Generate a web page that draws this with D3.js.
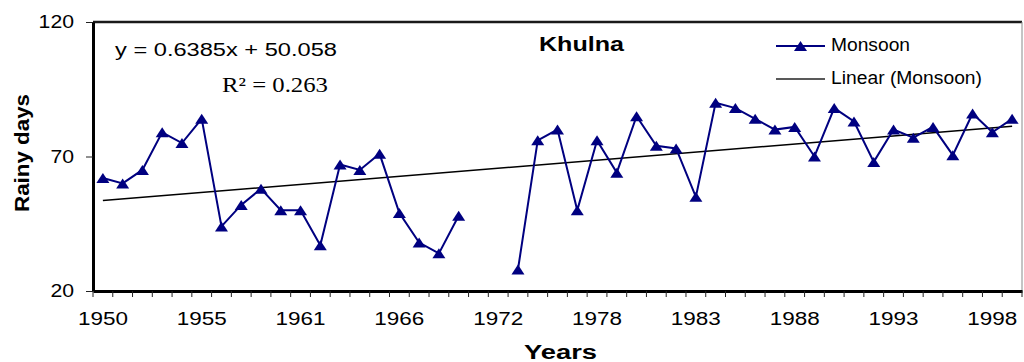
<!DOCTYPE html>
<html>
<head>
<meta charset="utf-8">
<script src="https://cdn.jsdelivr.net/npm/d3@7"></script>
<style>
  html, body { margin: 0; padding: 0; background: #fff; }
  svg { display: block; }
  text { font-family: "Liberation Sans", Arial, sans-serif; fill: #000; }
</style>
</head>
<body>
<svg id="chart" width="1024" height="362"></svg>
<script>
// Monsoon rainy days at Khulna, one category per recorded year
const years = [1950, 1951, 1952, 1953, 1954, 1955, 1957, 1958, 1959, 1960,
               1961, 1962, 1963, 1964, 1965, 1966, 1967, 1968, 1969, 1971,
               1972, 1973, 1974, 1975, 1976, 1978, 1979, 1980, 1981, 1982,
               1983, 1984, 1985, 1986, 1987, 1988, 1989, 1990, 1991, 1992,
               1993, 1994, 1995, 1996, 1997, 1998, 1999];
const monsoon = [62, 60, 65, 79, 75, 84, 44, 52, 58, 50,
                 50, 37, 67, 65, 71, 49, 38, 34, 48, null,
                 null, 28, 76, 80, 50, 76, 64, 85, 74, 73,
                 55, 90, 88, 84, 80, 81, 70, 88, 83, 68,
                 80, 77, 81, 70.5, 86, 79, 84];
const yTicks = [20, 70, 120];
const labelEvery = 5;
const equationText = "y = 0.6385x + 50.058";
const r2Text = "R\u00B2 = 0.263";

const svg = d3.select("#chart");
const plotL = 93, plotR = 1022, plotT = 22, plotB = 291;

const x = d3.scaleBand().domain(years).range([plotL, plotR]);
const bw = x.bandwidth();
const cx = d => x(d) + bw / 2;
const y = d3.scaleLinear().domain([20, 120]).range([plotB, plotT]);

// plot frame: top and right borders
svg.append("line").attr("x1", plotL).attr("x2", plotR).attr("y1", plotT).attr("y2", plotT)
  .attr("stroke", "#1a1a1a").attr("stroke-width", 2.5);
svg.append("line").attr("x1", plotR).attr("x2", plotR).attr("y1", plotT).attr("y2", plotB)
  .attr("stroke", "#8a8a8a").attr("stroke-width", 1);

// y axis
const yAxis = svg.append("g").attr("transform", `translate(${plotL},0)`)
  .call(d3.axisLeft(y).tickValues(yTicks).tickSize(7).tickSizeOuter(0).tickPadding(0));
yAxis.select(".domain").attr("stroke", "#000").attr("stroke-width", 3);
yAxis.selectAll(".tick line").attr("stroke", "#222").attr("stroke-width", 1);
yAxis.selectAll(".tick text")
  .attr("x", -19).attr("dy", "0.34em")
  .style("font-size", "17.5px")
  .attr("textLength", d => String(d).length * 11.8)
  .attr("lengthAdjust", "spacingAndGlyphs");

// x axis: tick marks between categories, labels on every fifth year
const xAxis = svg.append("g").attr("transform", `translate(0,${plotB})`)
  .call(d3.axisBottom(x).tickSize(6).tickSizeOuter(0).tickPadding(0)
    .tickFormat((d, i) => i % labelEvery === 0 ? d : ""));
xAxis.select(".domain").attr("stroke", "#000").attr("stroke-width", 3);
xAxis.selectAll(".tick line").attr("stroke", "#222").attr("stroke-width", 1)
  .attr("transform", `translate(${-bw / 2},0)`);
xAxis.append("line").attr("x1", plotR).attr("x2", plotR).attr("y1", 0).attr("y2", 6)
  .attr("stroke", "#222").attr("stroke-width", 1);
xAxis.selectAll(".tick text")
  .attr("y", 34).attr("dy", 0)
  .style("font-size", "17.5px")
  .attr("textLength", d => years.indexOf(d) % labelEvery === 0 ? 50 : null)
  .attr("lengthAdjust", "spacingAndGlyphs");

// least-squares trend over the recorded years (x = category number)
const pts = monsoon.map((v, i) => [i + 1, v]).filter(p => p[1] != null);
const mx = d3.mean(pts, p => p[0]), my = d3.mean(pts, p => p[1]);
const slope = d3.sum(pts, p => (p[0] - mx) * (p[1] - my)) / d3.sum(pts, p => (p[0] - mx) ** 2);
const icpt = my - slope * mx;
const trend = [years[0], years[years.length - 1]].map(yr => {
  const k = years.indexOf(yr) + 1;
  return [cx(yr), y(icpt + slope * k)];
});
svg.append("path").attr("d", d3.line()(trend))
  .attr("fill", "none").attr("stroke", "#000").attr("stroke-width", 1.5);

// monsoon series
const navy = "#000080";
const line = d3.line()
  .defined(d => d.v != null)
  .x(d => cx(d.yr)).y(d => y(d.v));
const series = years.map((yr, i) => ({ yr, v: monsoon[i] }));
svg.append("path").datum(series).attr("d", line)
  .attr("fill", "none").attr("stroke", navy).attr("stroke-width", 2);
const tri = "M0,-5L6.5,5L-6.5,5Z";
svg.append("g").selectAll("path").data(series.filter(d => d.v != null)).join("path")
  .attr("d", tri).attr("fill", navy)
  .attr("transform", d => `translate(${cx(d.yr)},${y(d.v)})`);

// text helper
function label(txt, px, py, size, len, opts = {}) {
  const t = svg.append("text").attr("x", px).attr("y", py).text(txt)
    .style("font-size", size + "px")
    .attr("textLength", len).attr("lengthAdjust", "spacingAndGlyphs");
  if (opts.anchor) t.attr("text-anchor", opts.anchor);
  if (opts.bold) t.style("font-weight", "bold");
  if (opts.family) t.style("font-family", opts.family);
  if (opts.rotate) t.attr("transform", `rotate(${opts.rotate},${px},${py})`);
  return t;
}

label("Khulna", 581.5, 51, 20, 85, { anchor: "middle", bold: true });
label(equationText, 115, 56, 18, 222);
label(r2Text, 222, 92, 22, 106, { family: "'Liberation Serif', 'Times New Roman', serif" });
label("Years", 560.5, 359, 20, 73, { anchor: "middle", bold: true });
label("Rainy days", 29, 153, 20, 118, { anchor: "middle", bold: true, rotate: -90 });

// legend
const lg = svg.append("g");
lg.append("line").attr("x1", 776).attr("x2", 825).attr("y1", 46).attr("y2", 46)
  .attr("stroke", navy).attr("stroke-width", 2);
lg.append("path").attr("d", tri).attr("fill", navy).attr("transform", "translate(800.5,46)");
label("Monsoon", 831, 51, 17.5, 79);
lg.append("line").attr("x1", 776).attr("x2", 825).attr("y1", 79).attr("y2", 79)
  .attr("stroke", "#222").attr("stroke-width", 1.5);
label("Linear (Monsoon)", 831, 84, 17.5, 151);
</script>
</body>
</html>
